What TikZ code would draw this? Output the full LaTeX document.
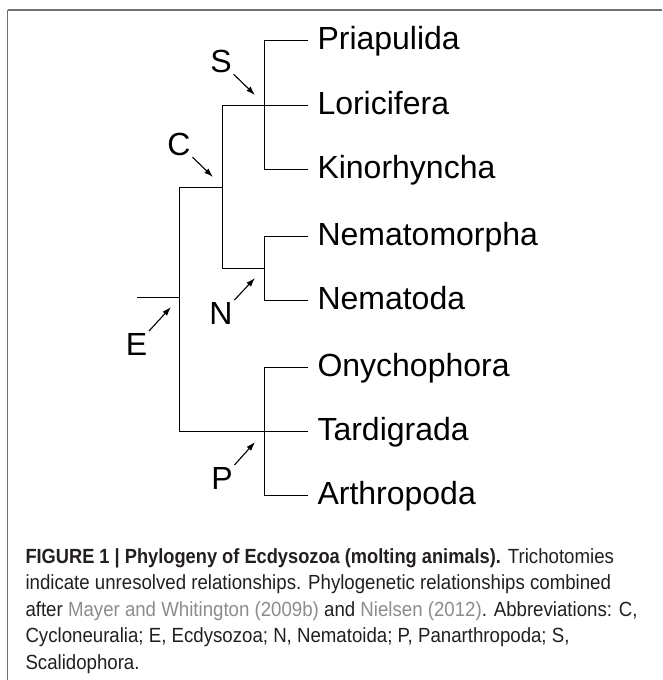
\documentclass[tikz,border=0pt]{standalone}
\usepackage{fontspec}
\setmainfont{Liberation Sans}
\newfontfamily\capfont[FakeStretch=0.91]{Liberation Sans}
\newfontfamily\capbold[FakeStretch=0.89]{Liberation Sans Bold}
\usetikzlibrary{arrows.meta}
\definecolor{captext}{HTML}{231F20}
\definecolor{citegray}{HTML}{8C8C8C}
\definecolor{framegray}{HTML}{707070}
\begin{document}
\begin{tikzpicture}[x=1pt,y=-1pt,line width=1pt,
    taxon/.style={anchor=base west,inner sep=0pt,font=\fontsize{32}{38}\selectfont},
    clade/.style={anchor=base,inner sep=0pt,font=\fontsize{32}{38}\selectfont},
    pointer/.style={-{Latex[length=9pt,width=6pt]},line width=1.1pt,shorten <=2pt},
    capline/.style={anchor=base west,inner sep=0pt,text=captext,font=\capfont\fontsize{20.5}{26}\selectfont}]
        \useasboundingbox (0,0) rectangle (662,680);
        %cornice
        \draw[framegray,line width=2pt] (7.5,9.5)--(662,9.5);
        \draw[framegray] (7.5,9.5)--(7.5,680);

        %punti dei nodi
        \coordinate (root) at (137,297);
        \coordinate (E) at (179,297);
        \coordinate (Etop) at (179,187);
        \coordinate (Ebot) at (179,431);
        \coordinate (C) at (222,187);
        \coordinate (Ctop) at (222,105);
        \coordinate (Cbot) at (222,268);
        \coordinate (Stop) at (264,40);
        \coordinate (Sbot) at (264,169);
        \coordinate (N) at (264,268);
        \coordinate (Ntop) at (264,236);
        \coordinate (Nbot) at (264,300);
        \coordinate (Ptop) at (264,367);
        \coordinate (Pbot) at (264,495);
        %estremi delle foglie
        \coordinate (priEnd) at (308,40);
        \coordinate (lorEnd) at (308,105);
        \coordinate (kinEnd) at (308,169);
        \coordinate (nmtEnd) at (308,236);
        \coordinate (ntdEnd) at (308,300);
        \coordinate (onyEnd) at (308,367);
        \coordinate (tarEnd) at (308,431);
        \coordinate (artEnd) at (308,495);

        %disegno albero
        \draw (root)--(E);
        \draw (Etop)--(Ebot);
        \draw (Etop)--(C);
        \draw (Ctop)--(Cbot);
        \draw (Ctop)--(lorEnd);
        \draw (Stop)--(Sbot);
        \draw (Stop)--(priEnd);
        \draw (Sbot)--(kinEnd);
        \draw (Cbot)--(N);
        \draw (Ntop)--(Nbot);
        \draw (Ntop)--(nmtEnd);
        \draw (Nbot)--(ntdEnd);
        \draw (Ebot)--(tarEnd);
        \draw (Ptop)--(Pbot);
        \draw (Ptop)--(onyEnd);
        \draw (Pbot)--(artEnd);

        %nomi dei taxa
        \node[taxon] (priapulida) at (317,49) {Priapulida};
        \node[taxon] (loricifera) at (317,114) {Loricifera};
        \node[taxon] (kinorhyncha) at (317,178) {Kinorhyncha};
        \node[taxon] (nematomorpha) at (317,245) {Nematomorpha};
        \node[taxon] (nematoda) at (317,309) {Nematoda};
        \node[taxon] (onychophora) at (317,376) {Onychophora};
        \node[taxon] (tardigrada) at (317,440) {Tardigrada};
        \node[taxon] (arthropoda) at (317,504) {Arthropoda};

        %sigle dei cladi e frecce
        \node[clade] (labS) at (221,72) {S};
        \node[clade] (labC) at (179,155) {C};
        \node[clade] (labN) at (221,324) {N};
        \node[clade] (labE) at (136.5,355) {E};
        \node[clade] (labP) at (222,489) {P};
        \coordinate (Stip) at (255,95);
        \coordinate (Ctip) at (213,177);
        \coordinate (Ntip) at (255,278);
        \coordinate (Etip) at (171,307);
        \coordinate (Ptip) at (255,442);
        \draw[pointer] (labS.south east)--(Stip);
        \draw[pointer] (labC.south east)--(Ctip);
        \draw[pointer] (labN.north east)--(Ntip);
        \draw[pointer] (labE.north east)--(Etip);
        \draw[pointer] (labP.north east)--(Ptip);

        %didascalia
        \node[capline] (cap1) at (25,563) {{\capbold FIGURE 1 | Phylogeny of Ecdysozoa (molting animals).} Trichotomies};
        \node[capline] (cap2) at (25,589.5) {indicate unresolved relationships. Phylogenetic relationships combined};
        \node[capline] (cap3) at (25,616) {after \textcolor{citegray}{Mayer and Whitington (2009b)} and \textcolor{citegray}{Nielsen (2012)}. Abbreviations: C,};
        \node[capline] (cap4) at (25,642.5) {Cycloneuralia; E, Ecdysozoa; N, Nematoida; P, Panarthropoda; S,};
        \node[capline] (cap5) at (25,669) {Scalidophora.};
    \end{tikzpicture}
\end{document}
